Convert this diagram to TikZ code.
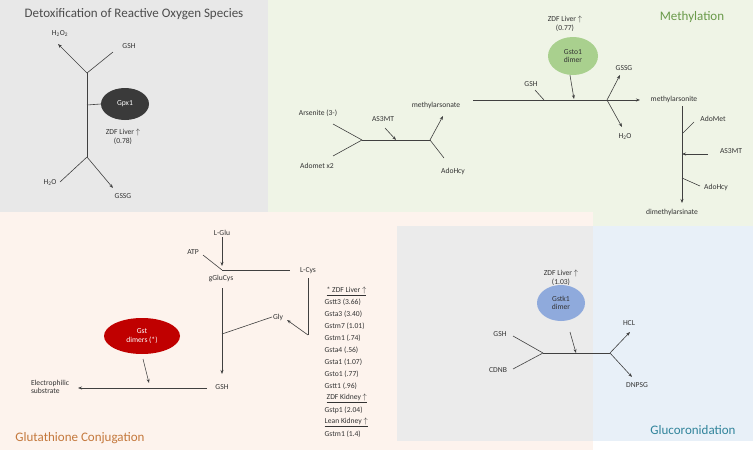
\documentclass[tikz,border=0pt]{standalone}
\usepackage{fontspec}
\setmainfont{Carlito}
\usetikzlibrary{arrows.meta,shapes.geometric}
\begin{document}
\begin{tikzpicture}[x=1pt,y=-1pt,
 every node/.style={font=\fontsize{7.6}{8.6}\selectfont,text=black!80,inner sep=1pt},
 ln/.style={draw=black!75,line width=0.6pt},
 ar/.style={ln,-{Stealth[length=4pt,width=3pt]}},
 ttl/.style={font=\fontsize{13}{15}\selectfont},
 lst/.style={anchor=west,inner sep=0.5pt}]
\useasboundingbox (0,0) rectangle (753,450);
\fill[white] (0,0) rectangle (753,450);
% panels
\fill[fill={rgb,255:red,239;green,244;blue,230}] (268,0) rectangle (753,226);
\fill[fill={rgb,255:red,253;green,243;blue,237}] (0,212) rectangle (593,450);
\fill[fill={rgb,255:red,232;green,232;blue,232}] (0,0) rectangle (268,212);
\fill[fill={rgb,255:red,235;green,235;blue,235}] (397,226) rectangle (593,441);
\fill[fill={rgb,255:red,232;green,240;blue,248}] (593,226) rectangle (753,441);
% ---- Detox
\node[ttl,text=black!70] (t1) at (134,14) {Detoxification of Reactive Oxygen Species};
\node (h2o2) at (60,34) {H\textsubscript{2}O\textsubscript{2}};
\node (gsh1) at (129,46) {GSH};
\coordinate (b1) at (87,73);
\coordinate (b2) at (87,157);
\coordinate (m1) at (87,105);
\draw[ar] (b1) -- (58,44) coordinate (e1);
\draw[ln] (b1) -- (113,52) coordinate (e2);
\draw[ln] (b1) -- (b2);
\node[ellipse,fill={rgb,255:red,58;green,58;blue,58},minimum width=48pt,minimum height=32pt,text=white] (gpx) at (125,104) {Gpx1};
\draw[ln] (m1) -- (gpx.west);
\node[align=center] (z1) at (123,137) {ZDF Liver $\uparrow$\\(0.78)};
\node (h2o1) at (50,183) {H\textsubscript{2}O};
\node (gssg1) at (123,196) {GSSG};
\draw[ln] (b2) -- (60,182) coordinate (e3);
\draw[ar] (b2) -- (113,188) coordinate (e4);
% ---- Methylation
\node[ttl,text={rgb,255:red,106;green,154;blue,74}] (t2) at (692,17) {Methylation};
\node[align=center] (z2) at (565,24) {ZDF Liver $\uparrow$\\(0.77)};
\node[ellipse,fill={rgb,255:red,169;green,208;blue,142},minimum width=50pt,minimum height=38pt,align=center] (gsto) at (573,56) {Gsto1\\dimer};
\node (arsen) at (318,113) {Arsenite (3-)};
\node (adomet) at (317,166) {Adomet  x2};
\node (as3a) at (383,119) {AS3MT};
\node (mas) at (436,105) {methylarsonate};
\node (adohcy1) at (453,171) {AdoHcy};
\coordinate (c1) at (362,140);
\coordinate (c2) at (430,140);
\coordinate (c3) at (396,140);
\draw[ln] (c1) -- (333,124);
\draw[ln] (c1) -- (333,156);
\draw[ln] (c1) -- (c2);
\draw[ar] (385,128) -- (c3);
\draw[ar] (c2) -- (443,116);
\draw[ln] (c2) -- (444,158);
\coordinate (s1) at (473,100);
\coordinate (s2) at (640,100);
\coordinate (g1) at (544,100);
\coordinate (g2) at (574,99);
\coordinate (g3) at (607,100);
\node (gsh2) at (531,84) {GSH};
\node (gssg2) at (624,68) {GSSG};
\node (h2o2b) at (625,137) {H\textsubscript{2}O};
\node (mite) at (674,99) {methylarsonite};
\draw[ar] (s1) -- (s2);
\draw[ln] (535,90) -- (g1);
\draw[ar] (gsto.south) ++(-3,0) -- (g2);
\draw[ar] (g3) -- (620,75);
\draw[ar] (g3) -- (622,127);
\node (adomet2) at (713,119) {AdoMet};
\node (as3b) at (731,151) {AS3MT};
\node (adohcy2) at (716,187) {AdoHcy};
\node (dma) at (672,212) {dimethylarsinate};
\coordinate (v1) at (682,106);
\coordinate (v2) at (682,203);
\draw[ar] (v1) -- (v2);
\draw[ln] (683,133) -- (694,122);
\draw[ar] (708,154) -- (682,154);
\draw[ln] (682,178) -- (700,186);
% ---- Glutathione
\node[ttl,text={rgb,255:red,196;green,120;blue,60}] (t3) at (80,438) {Glutathione Conjugation};
\node (lglu) at (222,233) {L-Glu};
\node (atp) at (193,252) {ATP};
\node (lcys) at (308,271) {L-Cys};
\node (ggc) at (221,279) {gGluCys};
\node (gly) at (278,317) {Gly};
\node (gsh3) at (222,387) {GSH};
\node[align=left] (elec) at (50,387) {Electrophilic\\substrate};
\node[ellipse,fill={rgb,255:red,192;green,0;blue,0},minimum width=76pt,minimum height=36pt,align=center,text=white] (gst) at (142,336) {Gst\\dimers (*)};
\coordinate (k1) at (222,270);
\coordinate (k2) at (222,334);
\coordinate (k3) at (222,288);
\draw[ar] (lglu) -- (222,266);
\draw[ln] (203,255) -- (k1);
\draw[ln] (k1) -- (290,270);
\draw[ln] (308,278) -- (308,335);
\draw[ar] (308,335) -- (287,320);
\draw[ar] (k3) -- (222,374);
\draw[ln] (272,317) -- (k2);
\draw[ar] (207,388) -- (78,388);
\draw[ar] (143,359) -- (149,383);
\node[lst] (l1) at (326,291) {\underline{* ZDF Liver $\uparrow$}};
\node[lst] (l2) at (324,302) {Gstt3 (3.66)};
\node[lst] (l3) at (324,314) {Gsta3 (3.40)};
\node[lst] (l4) at (324,326) {Gstm7 (1.01)};
\node[lst] (l5) at (324,338) {Gstm1 (.74)};
\node[lst] (l6) at (324,350) {Gsta4 (.56)};
\node[lst] (l7) at (324,362) {Gsta1 (1.07)};
\node[lst] (l8) at (324,374) {Gsto1 (.77)};
\node[lst] (l9) at (324,386) {Gstt1 (.96)};
\node[lst] (l10) at (326,398) {\underline{ZDF Kidney $\uparrow$}};
\node[lst] (l11) at (324,410) {Gstp1 (2.04)};
\node[lst] (l12) at (324,422) {\underline{Lean Kidney $\uparrow$}};
\node[lst] (l13) at (324,434) {Gstm1 (1.4)};
% ---- Glucoronidation
\node[ttl,text={rgb,255:red,49;green,132;blue,155}] (t4) at (693,430) {Glucoronidation};
\node[align=center] (z4) at (561,278) {ZDF Liver $\uparrow$\\(1.03)};
\node[ellipse,fill={rgb,255:red,143;green,170;blue,220},minimum width=48pt,minimum height=36pt,align=center] (gstk) at (561,303) {Gstk1\\dimer};
\node (gsh4) at (500,334) {GSH};
\node (cdnb) at (498,370) {CDNB};
\node (hcl) at (629,323) {HCL};
\node (dnpsg) at (637,385) {DNPSG};
\coordinate (q1) at (543,353);
\coordinate (q2) at (610,353);
\draw[ln] (q1) -- (q2);
\draw[ln] (q1) -- (513,336);
\draw[ln] (q1) -- (513,369);
\draw[ar] (570,332) -- (576,353);
\draw[ar] (q2) -- (630,332);
\draw[ar] (q2) -- (632,377);
\end{tikzpicture}
\end{document}
